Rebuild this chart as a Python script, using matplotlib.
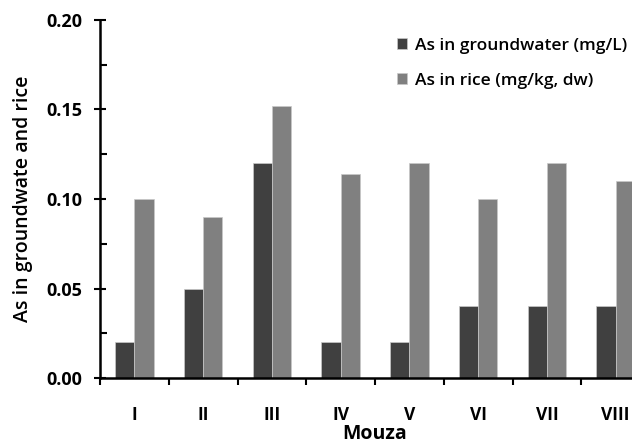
import numpy as np
import matplotlib.pyplot as plt
from matplotlib.ticker import MultipleLocator

# data
mouza = ['I', 'II', 'III', 'IV', 'V', 'VI', 'VII', 'VIII']
as_groundwater = [0.02, 0.05, 0.12, 0.02, 0.02, 0.04, 0.04, 0.04]
as_rice = [0.10, 0.09, 0.152, 0.114, 0.12, 0.10, 0.12, 0.11]

plt.rcParams['font.family'] = ['Open Sans', 'DejaVu Sans']

fig = plt.figure(figsize=(6.32, 4.44), dpi=100)
# axis runs past the right edge of the picture, like the cropped original
ax = fig.add_axes([100/632, 1 - 378/444, 550/632, 358/444])

x = np.arange(len(mouza))
w = 0.28
ax.bar(x - w/2, as_groundwater, w, color='#404040', edgecolor='#c8c8c8', linewidth=0.5,
       label='As in groundwater (mg/L)')
ax.bar(x + w/2, as_rice, w, color='#808080', edgecolor='#c8c8c8', linewidth=0.5,
       label='As in rice (mg/kg, dw)')

ax.set_xlim(-0.5, len(mouza) - 0.5)
ax.set_ylim(0, 0.20)
ax.yaxis.set_minor_locator(MultipleLocator(0.025))
ax.set_yticks(np.arange(0, 0.201, 0.05))
ax.set_yticklabels(['%.2f' % v for v in np.arange(0, 0.201, 0.05)],
                   fontsize=13, fontweight='bold')

ax.set_xticks(x)
ax.set_xticklabels(mouza, fontsize=12.5, fontweight='bold')
ax.set_xticks(np.arange(-0.5, len(mouza)), minor=True)
ax.tick_params(axis='x', which='major', length=0, pad=20)
ax.tick_params(axis='x', which='minor', direction='out', length=5, width=1.5)
ax.tick_params(axis='y', which='major', direction='inout', length=9, width=1.5, pad=8)
ax.tick_params(axis='y', which='minor', direction='in', length=5, width=1.5)

for s in ['top', 'right']:
    ax.spines[s].set_visible(False)
for s in ['left', 'bottom']:
    ax.spines[s].set_linewidth(1.8)

ax.set_ylabel('As in groundwate and rice', fontsize=14, fontweight='semibold', labelpad=10)
ax.set_xlabel('Mouza', fontsize=14, fontweight='bold', labelpad=0)

ax.legend(loc='upper left', bbox_to_anchor=(397/632, 1 - 38/444),
          bbox_transform=fig.transFigure, frameon=False,
          handlelength=0.6, handleheight=0.6, handletextpad=0.45,
          labelspacing=1.1, borderaxespad=0, borderpad=0,
          prop={'weight': 'semibold', 'size': 12.5})

fig.savefig('out.png', dpi=100)
